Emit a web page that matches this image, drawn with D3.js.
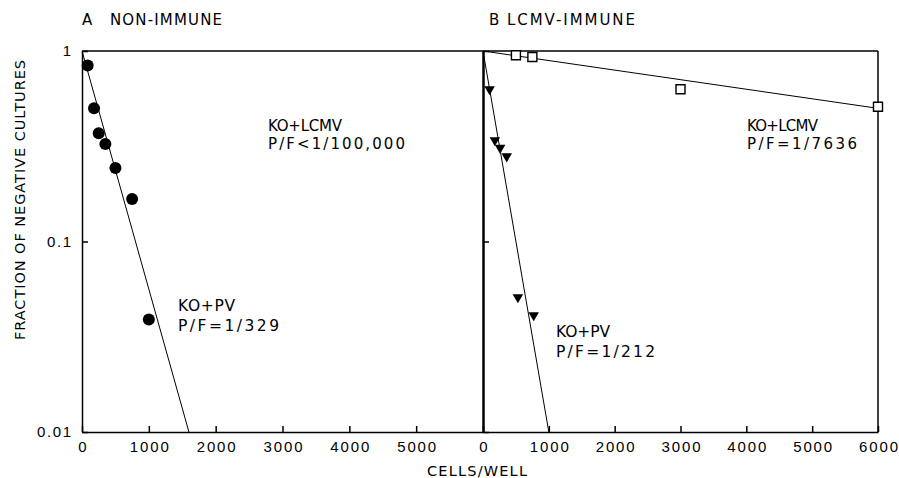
<!DOCTYPE html>
<html>
<head>
<meta charset="utf-8">
<script src="https://cdn.jsdelivr.net/npm/d3@7"></script>
<style>
  body { margin: 0; background: #fff; }
  svg { display: block; font-family: "DejaVu Sans", Verdana, sans-serif; }
</style>
</head>
<body>
<svg id="plot" width="899" height="478"></svg>
<script>
// tick values and labels
const xTicksA = [0, 1000, 2000, 3000, 4000, 5000];
const xTicksB = [0, 1000, 2000, 3000, 4000, 5000, 6000];
const yTicks = [0.01, 0.1, 1];
const yTickLabels = ['0.01', '0.1', '1'];

// A: non-immune, KO+PV (filled circles)
const nonImmuneCells = [85, 180, 250, 350, 500, 750, 1000];
const nonImmuneFraction = [0.84, 0.50, 0.37, 0.325, 0.243, 0.167, 0.039];
const nonImmuneFitCells = [0, 1600];
const nonImmuneFitFraction = [1, 0.01];

// B: LCMV-immune, KO+LCMV (open squares)
const lcmvCells = [500, 750, 3000, 6000];
const lcmvFraction = [0.95, 0.93, 0.63, 0.51];
const lcmvFitCells = [0, 6000];
const lcmvFitFraction = [1, 0.5];

// B: LCMV-immune, KO+PV (filled triangles)
const pvCells = [100, 180, 260, 360, 530, 770];
const pvFraction = [0.63, 0.34, 0.31, 0.28, 0.051, 0.041];
const pvFitCells = [0, 1000];
const pvFitFraction = [1, 0.01];

const zip = (xs, ys) => xs.map((x, i) => [x, ys[i]]);

const svg = d3.select('#plot');
const plotTop = 51, plotBottom = 432;

const y = d3.scaleLog().domain([0.01, 1]).range([plotBottom, plotTop]);
const xA = d3.scaleLinear().domain([0, 6000]).range([82, 483]);
const xB = d3.scaleLinear().domain([0, 6000]).range([483, 878]);

// x axes (ticks point inward)
const xAxisA = d3.axisBottom(xA).tickValues(xTicksA).tickFormat(d3.format('d'))
  .tickSizeInner(-6).tickSizeOuter(0).tickPadding(9);
const xAxisB = d3.axisBottom(xB).tickValues(xTicksB).tickFormat(d3.format('d'))
  .tickSizeInner(-6).tickSizeOuter(0).tickPadding(9);

svg.append('g')
  .attr('class', 'axis xaxis')
  .attr('transform', `translate(0, ${plotBottom})`)
  .call(xAxisA);

svg.append('g')
  .attr('class', 'axis xaxis')
  .attr('transform', `translate(0, ${plotBottom})`)
  .call(xAxisB);

// y axes
const yAxisA = d3.axisLeft(y).tickValues(yTicks)
  .tickFormat((d, i) => yTickLabels[i])
  .tickSizeInner(-6).tickSizeOuter(0).tickPadding(11);
const yAxisB = d3.axisLeft(y).tickValues(yTicks)
  .tickFormat('')
  .tickSizeInner(-6).tickSizeOuter(0);

svg.append('g')
  .attr('class', 'axis')
  .attr('transform', `translate(${xA(0)}, 0)`)
  .call(yAxisA);

svg.append('g')
  .attr('class', 'axis axis-b')
  .attr('transform', `translate(${xB(0)}, 0)`)
  .call(yAxisB);

svg.selectAll('.axis path, .axis line')
  .attr('stroke', '#000')
  .attr('stroke-width', 1.5);
svg.selectAll('.axis-b path').attr('stroke-width', 2.5);
svg.selectAll('.axis text')
  .attr('fill', '#000')
  .style('font-size', '15px');
// spread digits like the plotter lettering
svg.selectAll('.axis text')
  .filter(function() { return this.textContent.length > 1; })
  .attr('textLength', function() {
    const t = this.textContent;
    const dots = (t.match(/\./g) || []).length;
    return (t.length - dots) * 10 - 1 + dots * 5;
  })
  .attr('lengthAdjust', 'spacing');

// frame: top lines and right border
svg.append('line')
  .attr('x1', xA(0)).attr('x2', xB(6000))
  .attr('y1', y(1)).attr('y2', y(1))
  .attr('stroke', '#000').attr('stroke-width', 1.5);
svg.append('line')
  .attr('x1', xB(6000)).attr('x2', xB(6000))
  .attr('y1', y(1)).attr('y2', y(0.01))
  .attr('stroke', '#000').attr('stroke-width', 1.5);

// fitted lines
const lineA = d3.line().x(d => xA(d[0])).y(d => y(d[1]));
const lineB = d3.line().x(d => xB(d[0])).y(d => y(d[1]));

svg.append('path')
  .datum(zip(nonImmuneFitCells, nonImmuneFitFraction))
  .attr('d', lineA)
  .attr('fill', 'none').attr('stroke', '#000').attr('stroke-width', 1);

svg.append('path')
  .datum(zip(lcmvFitCells, lcmvFitFraction))
  .attr('d', lineB)
  .attr('fill', 'none').attr('stroke', '#000').attr('stroke-width', 1);

svg.append('path')
  .datum(zip(pvFitCells, pvFitFraction))
  .attr('d', lineB)
  .attr('fill', 'none').attr('stroke', '#000').attr('stroke-width', 1);

// points
svg.selectAll('.dot')
  .data(zip(nonImmuneCells, nonImmuneFraction))
  .enter()
  .append('circle')
  .attr('class', 'dot')
  .attr('cx', d => xA(d[0]))
  .attr('cy', d => y(d[1]))
  .attr('r', 6)
  .attr('fill', '#000');

svg.selectAll('.sq')
  .data(zip(lcmvCells, lcmvFraction))
  .enter()
  .append('path')
  .attr('class', 'sq')
  .attr('d', d3.symbol(d3.symbolSquare, 81))
  .attr('transform', d => `translate(${xB(d[0])}, ${y(d[1])})`)
  .attr('fill', '#fff')
  .attr('stroke', '#000')
  .attr('stroke-width', 1.4);

svg.selectAll('.tri')
  .data(zip(pvCells, pvFraction))
  .enter()
  .append('path')
  .attr('class', 'tri')
  .attr('d', d3.symbol(d3.symbolTriangle, 48))
  .attr('transform', d => `translate(${xB(d[0])}, ${y(d[1])}) rotate(180)`)
  .attr('fill', '#000');

// text helper, width forced to match the plotter lettering
function label(txt, x, yy, w, size) {
  svg.append('text')
    .attr('x', x)
    .attr('y', yy)
    .attr('textLength', w)
    .attr('lengthAdjust', 'spacing')
    .style('font-size', (size || 15.5) + 'px')
    .attr('fill', '#000')
    .text(txt);
}

// panel titles
label('A', 82, 25, 10, 15);
label('NON-IMMUNE', 110, 25, 112, 15);
label('B', 489, 25, 10, 15);
label('LCMV-IMMUNE', 507, 25, 128, 15);

// annotations
label('KO+LCMV', 268, 131, 74, 15);
label('P/F<1/100,000', 268, 149, 137, 15);
label('KO+PV', 178, 311, 57);
label('P/F=1/329', 178, 331, 101);
label('KO+LCMV', 747, 131, 71, 15);
label('P/F=1/7636', 747, 149, 110, 15);
label('KO+PV', 556, 337, 54);
label('P/F=1/212', 556, 357, 99);

// axis titles
svg.append('text')
  .attr('text-anchor', 'middle')
  .attr('x', 477)
  .attr('y', 476)
  .attr('textLength', 100)
  .attr('lengthAdjust', 'spacing')
  .style('font-size', '14.5px')
  .text('CELLS/WELL');

svg.append('text')
  .attr('text-anchor', 'middle')
  .attr('transform', 'translate(25, 200) rotate(-90)')
  .attr('textLength', 280)
  .attr('lengthAdjust', 'spacing')
  .style('font-size', '14.5px')
  .text('FRACTION OF NEGATIVE CULTURES');
</script>
</body>
</html>
